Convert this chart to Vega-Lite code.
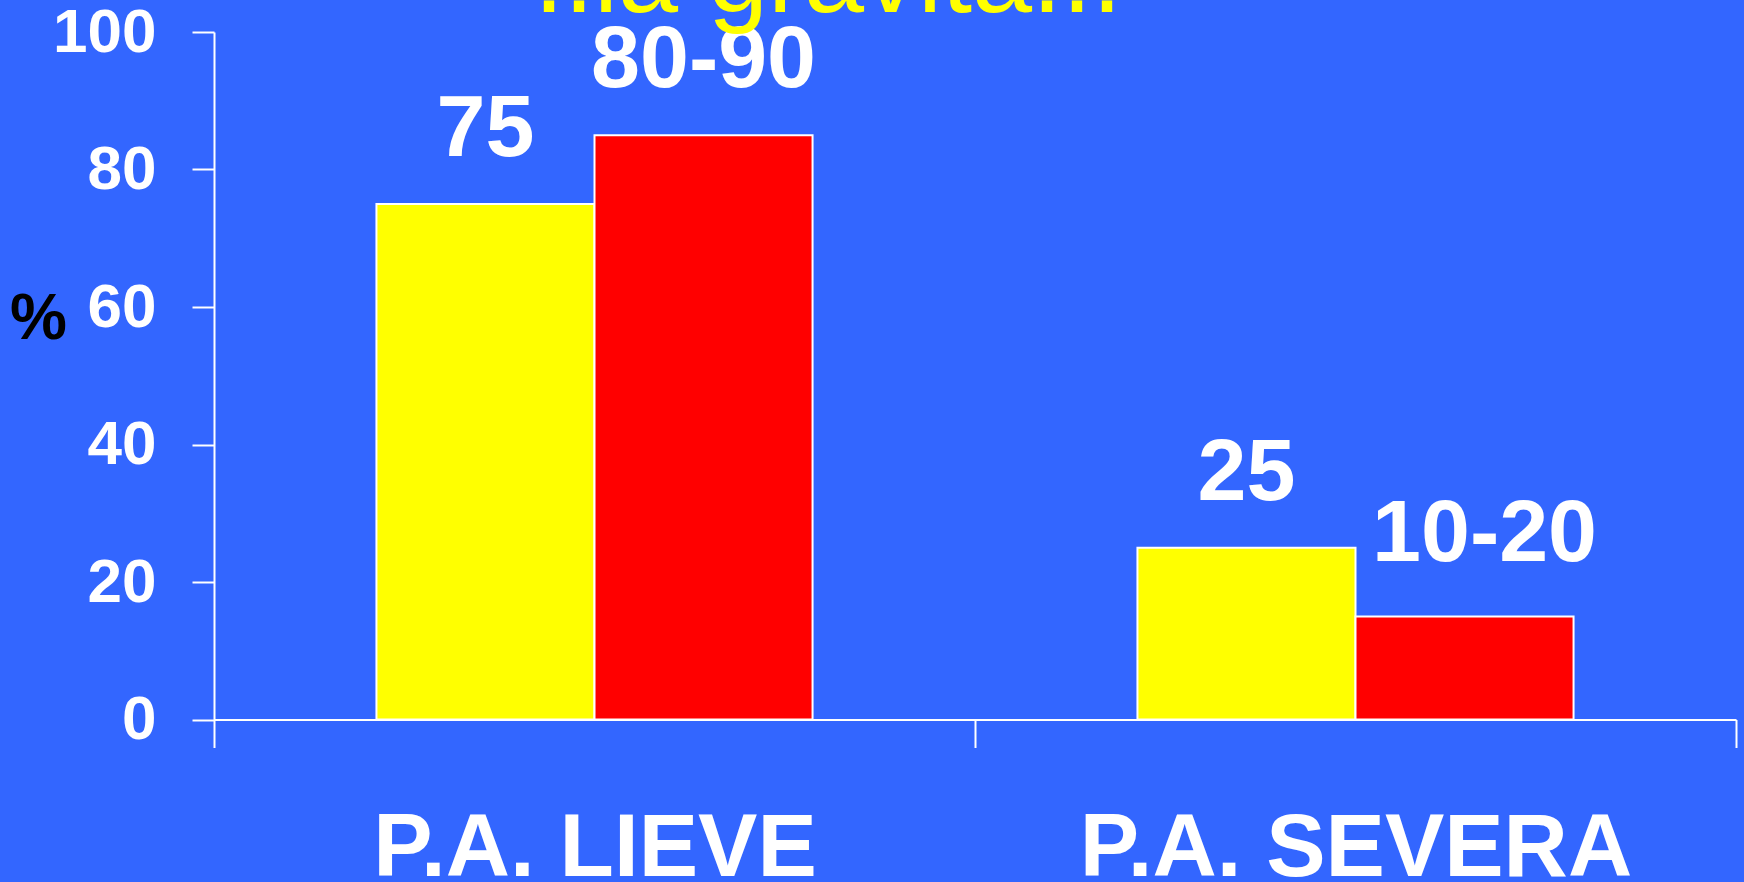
{
  "$schema": "https://vega.github.io/schema/vega-lite/v6.json",
  "width": 1522,
  "height": 687.5,
  "autosize": {"type": "none"},
  "padding": {"left": 214, "top": 32, "right": 8, "bottom": 162.5},
  "background": "#3366FF",
  "title": {
    "text": "..la gravità...",
    "color": "#FFFF00",
    "fontSize": 108,
    "font": "Liberation Sans",
    "fontWeight": "normal",
    "anchor": "middle",
    "frame": "group",
    "baseline": "alphabetic",
    "offset": -119,
    "dx": -147
  },
  "data": {
    "values": [
      {"categoria": "P.A. LIEVE", "serie": "1", "valore": 75, "etichetta": "75"},
      {"categoria": "P.A. LIEVE", "serie": "2", "valore": 85, "etichetta": "80-90"},
      {"categoria": "P.A. SEVERA", "serie": "1", "valore": 25, "etichetta": "25"},
      {"categoria": "P.A. SEVERA", "serie": "2", "valore": 15, "etichetta": "10-20"}
    ]
  },
  "encoding": {
    "x": {
      "field": "categoria",
      "type": "nominal",
      "sort": null,
      "scale": {"paddingInner": 0, "paddingOuter": 0},
      "axis": {
        "title": null,
        "tickBand": "extent",
        "labelAngle": 0,
        "labelFont": "Liberation Sans",
        "labelFontSize": 89,
        "labelFontWeight": "bold",
        "labelColor": "white",
        "labelBaseline": "alphabetic",
        "labelPadding": 128,
        "labelLimit": 0,
        "labelOverlap": false,
        "domainColor": "white",
        "domainWidth": 2,
        "tickColor": "white",
        "tickWidth": 2,
        "tickSize": 28,
        "grid": false
      }
    },
    "xOffset": {
      "field": "serie",
      "type": "nominal",
      "scale": {"paddingInner": 0, "paddingOuter": 0.745}
    },
    "y": {
      "field": "valore",
      "type": "quantitative",
      "scale": {"domain": [0, 100], "nice": false},
      "axis": {
        "values": [0, 20, 40, 60, 80, 100],
        "labelFont": "Liberation Sans",
        "labelFontSize": 62,
        "labelFontWeight": "bold",
        "labelColor": "white",
        "labelPadding": 36,
        "labelFlush": false,
        "labelOverlap": false,
        "domainColor": "white",
        "domainWidth": 2,
        "tickColor": "white",
        "tickWidth": 2,
        "tickSize": 22,
        "grid": false,
        "title": "%",
        "titleAngle": 0,
        "titleX": -176,
        "titleY": 306,
        "titleAlign": "center",
        "titleBaseline": "alphabetic",
        "titleColor": "black",
        "titleFont": "Liberation Sans",
        "titleFontSize": 64,
        "titleFontWeight": "bold"
      }
    }
  },
  "layer": [
    {
      "mark": {"type": "bar", "stroke": "white", "strokeWidth": 2},
      "encoding": {
        "color": {
          "field": "serie",
          "type": "nominal",
          "scale": {"range": ["#FFFF00", "#FF0000"]},
          "legend": null
        }
      }
    },
    {
      "mark": {
        "type": "text",
        "color": "white",
        "font": "Liberation Sans",
        "fontSize": 88,
        "fontWeight": "bold",
        "baseline": "alphabetic",
        "align": "center",
        "dy": {"expr": "datum.etichetta === '10-20' ? -55 : -48"},
        "dx": {"expr": "datum.etichetta === '10-20' ? 20 : 0"}
      },
      "encoding": {"text": {"field": "etichetta"}}
    }
  ],
  "config": {"view": {"stroke": null}}
}
